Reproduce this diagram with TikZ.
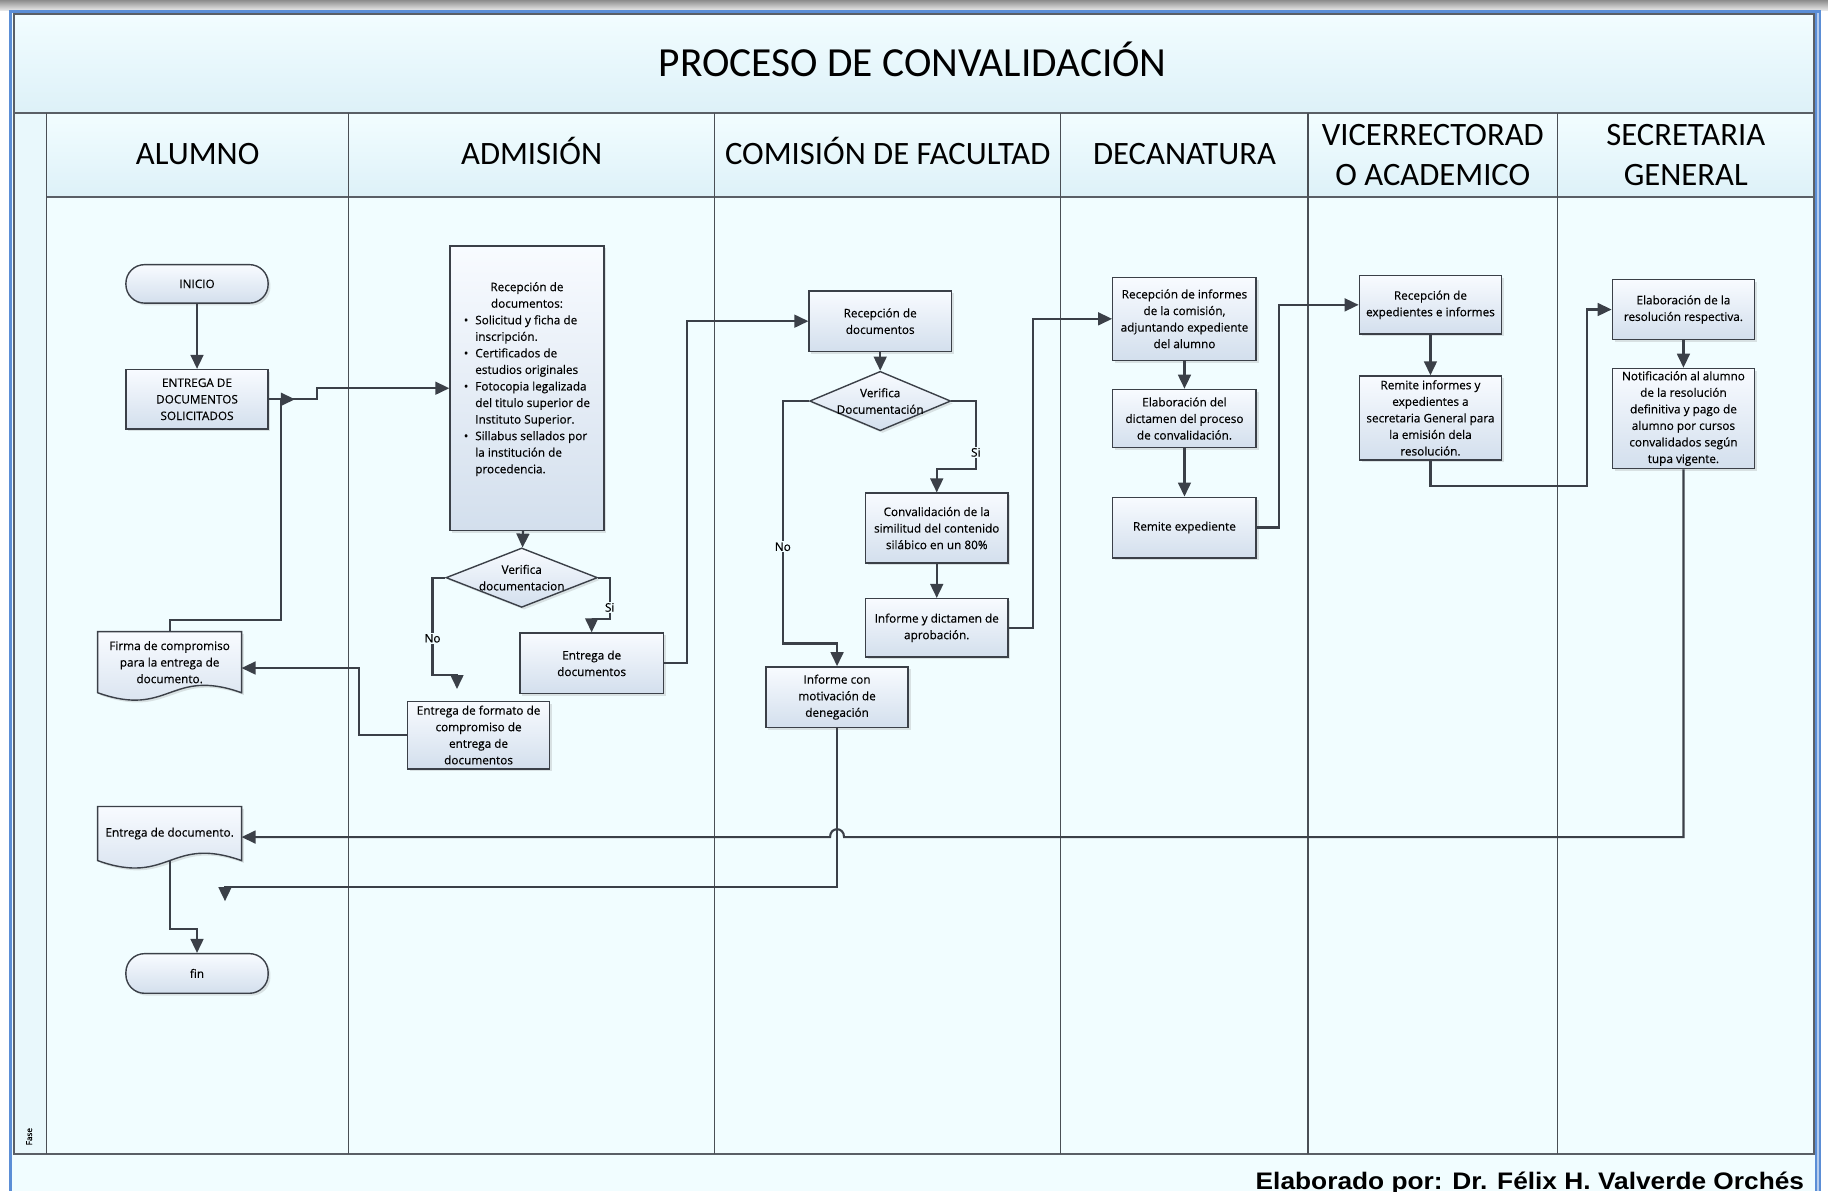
\documentclass[tikz,border=0pt]{standalone}
\usepackage{fontspec}
\setmainfont{Carlito}
\newfontfamily\boxfont[FakeBold=0.35]{Open Sans}
\newfontfamily\footfont{Liberation Sans}
\usetikzlibrary{arrows.meta,shapes.geometric,shadows}
\definecolor{bgc}{HTML}{F1FDFF}
\definecolor{bandtop}{HTML}{F2FDFF}
\definecolor{bandbot}{HTML}{DDF1F8}
\definecolor{fasec}{HTML}{E9F8FC}
\definecolor{linec}{HTML}{3B4048}
\definecolor{lanec}{HTML}{4A4F55}
\definecolor{framec}{HTML}{5A5F66}
\definecolor{boxtop}{HTML}{F8FBFF}
\definecolor{boxbot}{HTML}{D3DFED}
\definecolor{framebl}{HTML}{5B8ED6}
\pgfdeclarelayer{lanes}
\pgfdeclarelayer{shapes}
\pgfsetlayers{lanes,shapes,main}
\tikzset{
  boxbase/.style={line width=1.2pt, draw=linec, top color=boxtop, bottom color=boxbot,
    drop shadow={shadow xshift=2pt,shadow yshift=-2pt,opacity=0.22}},
  boxtext/.style={font=\boxfont\fontsize{10.1}{14.2}\selectfont},
  proc/.style={boxbase, boxtext, rectangle, align=center, inner sep=1pt},
  term/.style={proc, rounded corners=16pt},
  decis/.style={boxbase, diamond, inner sep=0pt, minimum width=130pt, minimum height=51pt},
  docnode/.style={boxtext, rectangle, align=center, inner sep=0pt, minimum width=123pt},
  docpath/.style={line width=1.2pt, draw=linec, top color=boxtop, bottom color=boxbot,
    drop shadow={shadow xshift=2pt,shadow yshift=-2pt,opacity=0.22}},
  conn/.style={line width=1.8pt, draw=linec, -{Triangle[length=12pt,width=11pt]}},
  branchlbl/.style={boxtext, fill=bgc, inner sep=1pt},
  hdr/.style={font=\fontsize{28}{34}\selectfont, align=center},
}
\newcommand{\docoutline}[1]{%
  \path[docpath] (#1.north west) -- (#1.north east) -- (#1.south east)
    .. controls ([xshift=-61.5pt,yshift=22pt]#1.south east) and ([xshift=61.5pt,yshift=-22pt]#1.south west) .. (#1.south west) -- cycle;}
\begin{document}
\begin{tikzpicture}[x=1pt,y=-1pt]
\useasboundingbox (0,0) rectangle (1568,1022);
\begin{pgfonlayer}{lanes}
\fill[bgc] (0,0) rectangle (1568,1022);
\fill[white] (0,0) rectangle (8,1022);
\fill[white] (1562,0) rectangle (1568,1022);
\shade[top color=black!45, bottom color=black!8] (0,0) rectangle (1568,9);
\fill[framebl] (8,9) rectangle (10,1022);
\fill[framebl] (8,9) rectangle (1562,11);
\fill[framebl] (1557,9) rectangle (1562,1022);
\fill[framebl!45!white] (1558.5,11) rectangle (1560.5,1022);
\shade[top color=bandtop, bottom color=bandbot] (12,12) rectangle (1556,97);
\shade[top color=bandtop, bottom color=bandbot] (40,97) rectangle (1556,169);
\fill[fasec] (12,97) rectangle (40,990);
\fill[bgc] (40,169) rectangle (1556,990);
\draw[framec, line width=1.5pt] (12,12) rectangle (1556,990);
\draw[framec, line width=2pt] (12,97) -- (1556,97);
\draw[framec, line width=1.6pt] (40,169) -- (1556,169);
\foreach \xx in {40,299,613,910,1122,1336} \draw[lanec, line width=1pt] (\xx,97) -- (\xx,990);
\end{pgfonlayer}

% titles
\node[font=\fontsize{35.5}{40}\selectfont, anchor=base] (title) at (783,66) {PROCESO DE CONVALIDACIÓN};
\node[hdr, anchor=base] (hA) at (169.5,141) {ALUMNO};
\node[hdr, anchor=base] (hB) at (456,141) {ADMISIÓN};
\node[hdr, anchor=base] (hC) at (761.5,141) {COMISIÓN DE FACULTAD};
\node[hdr, anchor=base] (hD) at (1016,141) {DECANATURA};
\node[hdr] (hE) at (1229,133) {VICERRECTORAD\\O ACADEMICO};
\node[hdr] (hF) at (1446,133) {SECRETARIA\\GENERAL};
\node[font=\boxfont\fontsize{7}{8}\selectfont, rotate=90] (fase) at (25,975) {Fase};
\node[font=\footfont\bfseries\fontsize{20.5}{22}\selectfont, anchor=base east] (footer) at (1551,1020) {\scalebox{1.1}[1]{Elaborado por: Dr. Félix H. Valverde Orchés}};

% ALUMNO
\node[term, minimum width=122pt, minimum height=33pt] (inicio) at (169,243.5) {INICIO};
\node[proc, minimum width=122pt, minimum height=51pt] (entrega) at (169,342.5) {ENTREGA DE\\DOCUMENTOS\\SOLICITADOS};
\node[docnode, minimum height=52pt] (firma) at (145.5,568) {Firma de compromiso\\para la entrega de\\documento.};
\node[docnode, minimum height=46pt] (entdoc) at (145.5,715) {Entrega de documento.};
\node[term, minimum width=122pt, minimum height=34pt] (fin) at (169,835) {fin};
\begin{pgfonlayer}{shapes}
\docoutline{firma}
\docoutline{entdoc}
\end{pgfonlayer}

% ADMISION
\node[proc, minimum width=132pt, minimum height=244pt] (recep) at (452,333) {%
\begin{tabular}{@{}l@{\hspace{6pt}}l@{}}
\multicolumn{2}{c}{Recepción de}\\
\multicolumn{2}{c}{documentos:}\\
\textbullet & Solicitud y ficha de\\
 & inscripción.\\
\textbullet & Certificados de\\
 & estudios originales\\
\textbullet & Fotocopia legalizada\\
 & del titulo superior de\\
 & Instituto Superior.\\
\textbullet & Sillabus sellados por\\
 & la institución de\\
 & procedencia.\\[16pt]
\end{tabular}};
\node[decis, label={[boxtext, align=center]center:{Verifica\\documentacion}}] (dia1) at (447.5,495.5) {};
\node[proc, minimum width=123pt, minimum height=52pt] (entdocs) at (507.5,569) {Entrega de\\documentos};
\node[proc, minimum width=122pt, minimum height=58pt] (formato) at (410.5,630.5) {Entrega de formato de\\compromiso de\\entrega de\\documentos};

% COMISION
\node[proc, minimum width=122pt, minimum height=52pt] (recdoc) at (755,275.5) {Recepción de\\documentos};
\node[decis, minimum width=121pt, label={[boxtext, align=center]center:{Verifica\\Documentación}}] (dia2) at (755,344) {};
\node[proc, minimum width=122pt, minimum height=60pt] (conval) at (803.5,453) {Convalidación de la\\similitud del contenido\\silábico en un 80\%};
\node[proc, minimum width=122pt, minimum height=50pt] (inforap) at (803.5,538.5) {Informe y dictamen de\\aprobación.};
\node[proc, minimum width=122pt, minimum height=52pt] (infden) at (718,598) {Informe con\\motivación de\\denegación};

% DECANATURA
\node[proc, minimum width=123pt, minimum height=71pt] (recinf) at (1016,273.5) {Recepción de informes\\de la comisión,\\adjuntando expediente\\del alumno};
\node[proc, minimum width=123pt, minimum height=50pt] (elabd) at (1016,359) {Elaboración del\\dictamen del proceso\\de convalidación.};
\node[proc, minimum width=123pt, minimum height=52pt] (remexp) at (1016,452.5) {Remite expediente};

% VICERRECTORADO
\node[proc, minimum width=122pt, minimum height=50pt] (recexp) at (1227,261.5) {Recepción de\\expedientes e informes};
\node[proc, minimum width=122pt, minimum height=72pt] (remin) at (1227,358.5) {Remite informes y\\expedientes a\\secretaria General para\\la emisión dela\\resolución.};

% SECRETARIA
\node[proc, minimum width=122pt, minimum height=51pt] (elabr) at (1444,265.5) {Elaboración de la\\resolución respectiva.};
\node[proc, minimum width=122pt, minimum height=86pt] (notif) at (1444,359) {Notificación al alumno\\de la resolución\\definitiva y pago de\\alumno por cursos\\convalidados según\\tupa vigente.};

% free ends
\coordinate (merge) at (253,342.5);
\coordinate (noend1) at (392,591);
\coordinate (noend2) at (193,773);

% connectors
\draw[conn] (inicio) -- (entrega);
\draw[conn] (entrega.east) -- (272,342.5) -- (272,333) -- (recep.west);
\draw[conn] (firma.north) -- (145.5,532) -- (241,532) -- (241,342.5) -- (merge);
\draw[conn] (recep) -- (dia1);
\draw[conn] (dia1.west) -- (371,495.5) -- (371,579) -- (392,579) -- (noend1);
\draw[conn] (dia1.east) -- (523,495.5) -- (523,531) -- (507.5,531) -- (entdocs.north);
\draw[conn] (entdocs.east) -- (589.5,569) -- (589.5,275.5) -- (recdoc.west);
\draw[conn] (formato.west) -- (308,630.5) -- (308,573) -- (firma.east |- 308,573);
\draw[conn] (recdoc) -- (dia2);
\draw[conn] (dia2.west) -- (671.5,344) -- (671.5,552) -- (718,552) -- (infden.north);
\draw[conn] (dia2.east) -- (837,344) -- (837,402.5) -- (803.5,402.5) -- (conval.north);
\draw[conn] (conval) -- (inforap);
\draw[conn] (inforap.east) -- (886,538.5) -- (886,273.5) -- (recinf.west);
\draw[conn] (recinf) -- (elabd);
\draw[conn] (elabd) -- (remexp);
\draw[conn] (remexp.east) -- (1097,452.5) -- (1097,261.5) -- (recexp.west);
\draw[conn] (recexp) -- (remin);
\draw[conn] (remin.south) -- (1227,416.5) -- (1361,416.5) -- (1361,265.5) -- (elabr.west);
\draw[conn] (elabr) -- (notif);
\draw[conn] (infden.south) -- (718,761) -- (193,761) -- (noend2);
\draw[conn] (notif.south) -- (1444,718) -- (724,718) .. controls (724,709) and (712,709) .. (712,718) -- (entdoc.east |- 1444,718);
\draw[conn] (entdoc.south) -- (145.5,797) -- (169,797) -- (fin.north);

% branch labels
\node[branchlbl] (no1) at (371,547.5) {No};
\node[branchlbl] (si1) at (523,521) {Si};
\node[branchlbl] (no2) at (671.5,469) {No};
\node[branchlbl] (si2) at (837,388) {Si};
\end{tikzpicture}
\end{document}
